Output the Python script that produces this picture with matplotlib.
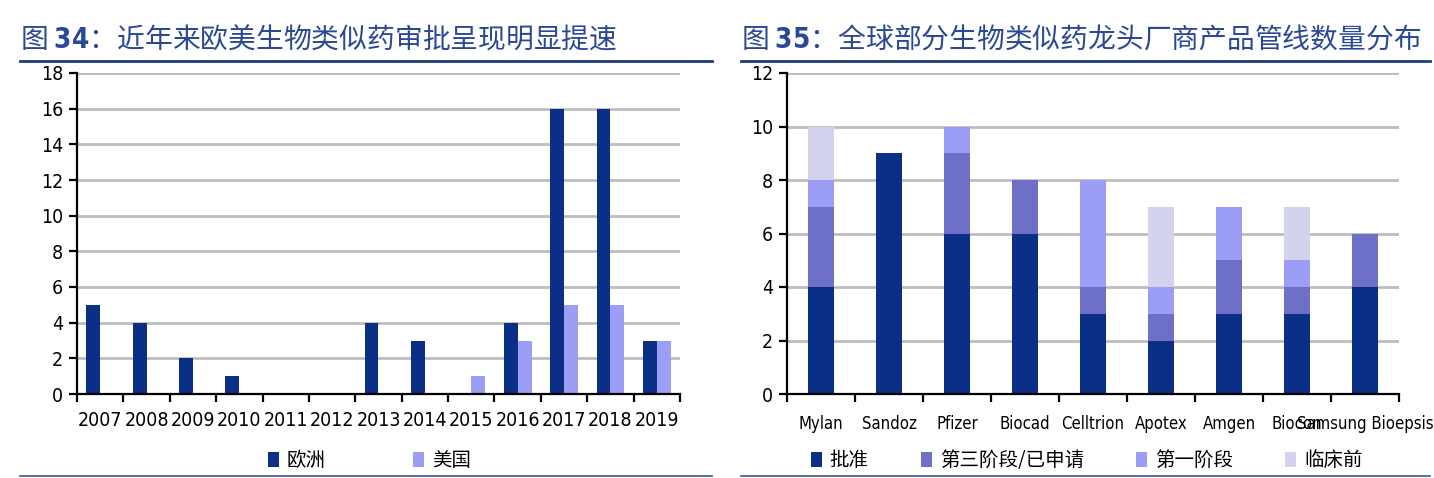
import numpy as np
import matplotlib
matplotlib.use("Agg")
import matplotlib.pyplot as plt
from matplotlib.lines import Line2D

plt.rcParams['font.family'] = ['DejaVu Sans', 'Noto Sans CJK SC']
plt.rcParams['font.stretch'] = 'condensed'

# ---- data: fig 34 ----
years = ['2007', '2008', '2009', '2010', '2011', '2012', '2013',
         '2014', '2015', '2016', '2017', '2018', '2019']
europe = [5, 4, 2, 1, 0, 0, 4, 3, 0, 4, 16, 16, 3]
usa = [0, 0, 0, 0, 0, 0, 0, 0, 1, 3, 5, 5, 3]

# ---- data: fig 35 ----
companies = ['Mylan', 'Sandoz', 'Pfizer', 'Biocad', 'Celltrion', 'Apotex',
             'Amgen', 'Biocon', 'Samsung Bioepsis']
approved = [4, 9, 6, 6, 3, 2, 3, 3, 4]
phase3 = [3, 0, 3, 2, 1, 1, 2, 1, 2]
phase1 = [1, 0, 1, 0, 4, 1, 2, 1, 0]
preclinical = [2, 0, 0, 0, 0, 3, 0, 2, 0]
stage_names = ['批准', '第三阶段/已申请', '第一阶段', '临床前']

NAVY = '#0B2F87'
C3 = '#6E70C8'
C1 = '#9C9EF6'
CP = '#D3D3EE'
TITLE_C = '#2A4896'
LINE_C = '#1F3A78'
GRID_C = '#BDBDBD'
CJK = ['Noto Sans CJK SC', 'DejaVu Sans']

W, H = 1434, 478
fig = plt.figure(figsize=(W / 100, H / 100), dpi=100)


def px_axes(x0, x1, ytop, ybot):
    return fig.add_axes([x0 / W, (H - ybot) / H, (x1 - x0) / W, (ybot - ytop) / H])


def style(ax, n, ymax, ystep):
    ax.set_xlim(-0.5, n - 0.5)
    ax.set_ylim(0, ymax)
    ax.set_yticks(np.arange(0, ymax + 0.1, ystep))
    ax.yaxis.grid(True, color=GRID_C, lw=2)
    ax.set_axisbelow(True)
    for s in ['top', 'right']:
        ax.spines[s].set_visible(False)
    for s in ['left', 'bottom']:
        ax.spines[s].set_linewidth(1.6)
    ax.set_xticks(np.arange(n))
    ax.set_xticks(np.arange(n + 1) - 0.5, minor=True)
    ax.tick_params(axis='x', which='major', length=0, pad=12, labelsize=14)
    ax.tick_params(axis='x', which='minor', length=6, width=1.6, direction='out')
    ax.tick_params(axis='y', length=6, width=1.6, labelsize=14, pad=4)


def header(x0, x1, text):
    fig.text(x0 / W, (H - 40) / H, text, fontsize=20, color=TITLE_C,
             family=CJK, va='center', ha='left')
    fig.add_artist(Line2D([x0 / W, x1 / W], [(H - 61) / H] * 2, color=LINE_C, lw=2))
    fig.add_artist(Line2D([x0 / W, x1 / W], [(H - 476) / H] * 2, color='#3B5A8C', lw=1.2))


# ---- left chart ----
ax1 = px_axes(77, 680, 73, 394)
x = np.arange(len(years))
bw = 0.3
ax1.bar(x - bw / 2, europe, bw, color=NAVY, label='欧洲')
ax1.bar(x + bw / 2, usa, bw, color=C1, label='美国')
style(ax1, len(years), 18, 2)
ax1.set_xticklabels(years)
ax1.legend(loc='upper center', bbox_to_anchor=(0.485, -0.12), ncol=2,
           frameon=False, prop={'family': CJK, 'size': 14},
           handlelength=0.55, handleheight=0.8, columnspacing=4.5, handletextpad=0.4)
header(20, 712, '图 $\\mathbf{34}$：近年来欧美生物类似药审批呈现明显提速')

# ---- right chart ----
ax2 = px_axes(787, 1399, 73, 394)
x2 = np.arange(len(companies))
bw2 = 0.38
bottom = np.zeros(len(companies))
for vals, col, name in zip([approved, phase3, phase1, preclinical],
                           [NAVY, C3, C1, CP], stage_names):
    ax2.bar(x2, vals, bw2, bottom=bottom, color=col, label=name)
    bottom += np.array(vals)
style(ax2, len(companies), 12, 2)
ax2.set_xticklabels(companies)
ax2.tick_params(axis='x', which='major', pad=15, labelsize=12)
ax2.legend(loc='upper center', bbox_to_anchor=(0.49, -0.12), ncol=4,
           frameon=False, prop={'family': CJK, 'size': 14},
           handlelength=0.55, handleheight=0.8, columnspacing=2.7, handletextpad=0.4)
header(741, 1430, '图 $\\mathbf{35}$：全球部分生物类似药龙头厂商产品管线数量分布')

fig.savefig('out.png', dpi=100)
